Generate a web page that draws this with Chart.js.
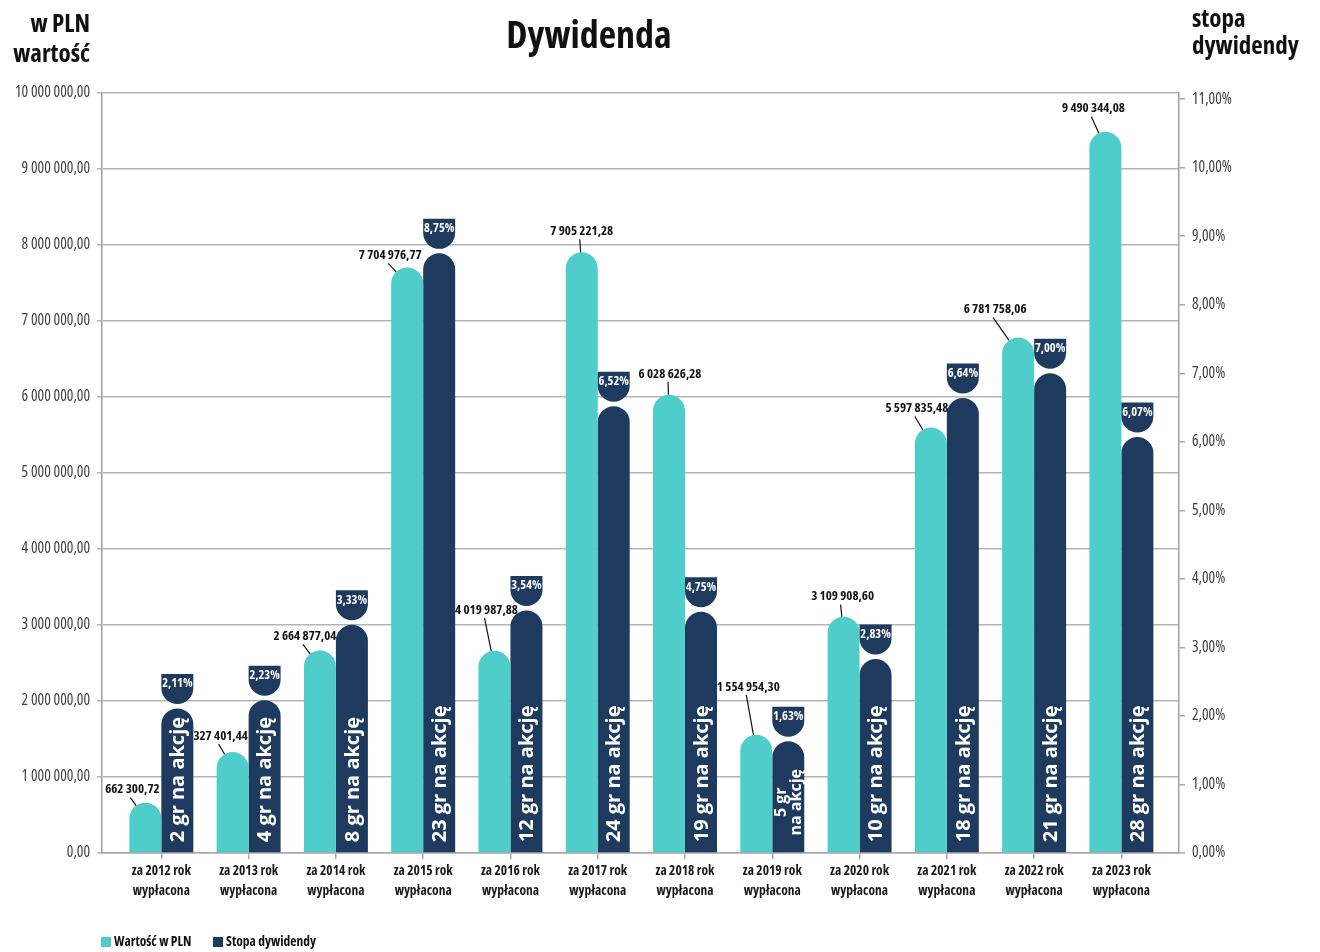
<!DOCTYPE html>
<html lang="pl">
<head>
<meta charset="utf-8">
<title>Dywidenda</title>
<script src="https://cdn.jsdelivr.net/npm/chart.js@4.4.1/dist/chart.umd.min.js"></script>
<style>
  html, body { margin: 0; padding: 0; background: #fff; }
  #wrap { width: 1320px; height: 952px; }
</style>
</head>
<body>
<div id="wrap"><canvas id="myChart" width="1320" height="952"></canvas></div>
<script>
// dane
const years = ['2012', '2013', '2014', '2015', '2016', '2017', '2018', '2019', '2020', '2021', '2022', '2023'];
const categories = years.map(y => ['za ' + y + ' rok', 'wypłacona']);
const values = [662300.72, 1327401.44, 2664877.04, 7704976.77, 2660000, 7905221.28, 6028626.28, 1554954.30, 3109908.60, 5597835.48, 6781758.06, 9490344.08];
const valueLabels = ['662 300,72', '327 401,44', '2 664 877,04', '7 704 976,77', '4 019 987,88', '7 905 221,28',
    '6 028 626,28', '1 554 954,30', '3 109 908,60', '5 597 835,48', '6 781 758,06', '9 490 344,08'];
const rates = [2.11, 2.23, 3.33, 8.75, 3.54, 6.52, 3.52, 1.63, 2.83, 6.64, 7.00, 6.07];
const rateLabels = ['2,11%', '2,23%', '3,33%', '8,75%', '3,54%', '6,52%', '4,75%', '1,63%', '2,83%', '6,64%', '7,00%', '6,07%'];
const perShare = [['2 gr na akcję'], ['4 gr na akcję'], ['8 gr na akcję'], ['23 gr na akcję'], ['12 gr na akcję'],
    ['24 gr na akcję'], ['19 gr na akcję'], ['5 gr', 'na akcję'], ['10 gr na akcję'], ['18 gr na akcję'],
    ['21 gr na akcję'], ['28 gr na akcję']];
const leftTicks = [0, 1000000, 2000000, 3000000, 4000000, 5000000, 6000000, 7000000, 8000000, 9000000, 10000000];
const rightTicks = [0, 1, 2, 3, 4, 5, 6, 7, 8, 9, 10, 11];

// where each value label sits relative to the top of its bar
const labelShift = [[-13, -13], [-12, -16], [-15, -14], [-17, -12], [-8, -41], [0, -21],
    [1, -21], [-8, -48], [-1, -20], [-14, -19], [-23, -28], [-12, -23]];

const TEAL = '#4fcdcb';
const NAVY = '#1e3a5f';
const FAM = '"Open Sans", "DejaVu Sans", sans-serif';

const fmtPLN = v => {
    const [i, d] = v.toFixed(2).split('.');
    return i.replace(/\B(?=(\d{3})+(?!\d))/g, ' ') + ',' + d;
};
const fmtPct = v => v.toFixed(2).replace('.', ',') + '%';

const decorations = {
    id: 'decorations',
    afterDatasetsDraw(chart) {
        const ctx = chart.ctx;
        const teal = chart.getDatasetMeta(0).data;
        const navy = chart.getDatasetMeta(1).data;

        // napisy w słupkach
        navy.forEach((bar, i) => {
            const lines = perShare[i];
            ctx.save();
            ctx.translate(bar.x, bar.base);
            ctx.rotate(-Math.PI / 2);
            ctx.fillStyle = '#fff';
            ctx.textBaseline = 'middle';
            if (lines.length === 1) {
                ctx.font = 'bold 20px ' + FAM;
                ctx.textAlign = 'left';
                ctx.fillText(lines[0], 10, 1);
            } else {
                ctx.font = 'bold 16px ' + FAM;
                ctx.textAlign = 'center';
                ctx.fillText(lines[0], 50, -7);
                ctx.fillText(lines[1], 50, 8);
            }
            ctx.restore();
        });

        // znaczniki z procentem
        navy.forEach((bar, i) => {
            const r = bar.width / 2;
            const top = bar.y - 4.5 - 30;
            ctx.save();
            ctx.beginPath();
            ctx.moveTo(bar.x - r, top);
            ctx.lineTo(bar.x + r, top);
            ctx.lineTo(bar.x + r, top + 14);
            ctx.arc(bar.x, top + 14, r, 0, Math.PI);
            ctx.closePath();
            ctx.fillStyle = NAVY;
            ctx.fill();
            ctx.fillStyle = '#fff';
            ctx.font = 'bold condensed 12.5px ' + FAM;
            ctx.textAlign = 'center';
            ctx.textBaseline = 'middle';
            ctx.fillText(rateLabels[i], bar.x, top + 10);
            ctx.restore();
        });

        // wartości w PLN
        teal.forEach((bar, i) => {
            const [dx, dy] = labelShift[i];
            const tx = bar.x + dx, ty = bar.y + dy;
            ctx.save();
            ctx.fillStyle = '#111';
            ctx.font = 'bold condensed 13px ' + FAM;
            ctx.textAlign = 'center';
            ctx.textBaseline = 'middle';
            ctx.fillText(valueLabels[i], tx, ty);
            const sx = tx - 2, sy = ty + 8;
            const r = bar.width / 2, cx = bar.x, cy = bar.y + r;
            const d = Math.hypot(sx - cx, sy - cy);
            ctx.beginPath();
            ctx.moveTo(sx, sy);
            ctx.lineTo(cx + (sx - cx) / d * r, cy + (sy - cy) / d * r);
            ctx.strokeStyle = '#111';
            ctx.lineWidth = 1.2;
            ctx.stroke();
            ctx.restore();
        });
    },
    afterDraw(chart) {
        const ctx = chart.ctx;
        ctx.save();
        ctx.fillStyle = '#111';
        ctx.textBaseline = 'alphabetic';

        ctx.font = 'bold semi-condensed 38px ' + FAM;
        ctx.textAlign = 'center';
        ctx.fillText('Dywidenda', 589, 48);

        ctx.font = 'bold semi-condensed 25px ' + FAM;
        ctx.textAlign = 'right';
        ctx.fillText('w PLN', 90, 32);
        ctx.fillText('wartość', 90, 62);
        ctx.textAlign = 'left';
        ctx.fillText('stopa', 1192, 27);
        ctx.fillText('dywidendy', 1192, 54);

        // legenda
        ctx.font = 'bold condensed 13.5px ' + FAM;
        ctx.textBaseline = 'middle';
        let x = 101;
        chart.data.datasets.forEach(ds => {
            ctx.fillStyle = ds.backgroundColor;
            ctx.fillRect(x, 937, 10, 10);
            ctx.fillStyle = '#111';
            ctx.fillText(ds.label, x + 13, 942.5);
            x += 112;
        });
        ctx.restore();
    }
};

new Chart(document.getElementById('myChart'), {
    type: 'bar',
    data: {
        datasets: [
            {
                label: 'Wartość w PLN',
                data: values.map((v, i) => ({x: i, y: v})),
                backgroundColor: TEAL,
                yAxisID: 'y',
                borderRadius: {topLeft: 16, topRight: 16, bottomLeft: 0, bottomRight: 0},
                borderSkipped: 'bottom',
                categoryPercentage: 0.733,
                barPercentage: 1
            },
            {
                label: 'Stopa dywidendy',
                data: rates.map((v, i) => ({x: i, y: v})),
                backgroundColor: NAVY,
                yAxisID: 'y1',
                borderRadius: {topLeft: 16, topRight: 16, bottomLeft: 0, bottomRight: 0},
                borderSkipped: 'bottom',
                categoryPercentage: 0.733,
                barPercentage: 1
            }
        ]
    },
    options: {
        responsive: false,
        devicePixelRatio: 1,
        animation: false,
        layout: {padding: {top: 93, left: 0, right: 0, bottom: 0}},
        plugins: {legend: {display: false}, tooltip: {enabled: false}},
        scales: {
            x: {
                type: 'linear',
                offset: false,
                min: -0.68,
                max: 11.66,
                afterBuildTicks: s => { s.ticks = years.map((_, i) => ({value: i})); },
                afterFit: s => { s.height = 99; },
                grid: {offset: false, drawOnChartArea: false, tickLength: 6, color: '#a8a8a8', lineWidth: 1.5},
                border: {color: '#a8a8a8', width: 1.5},
                ticks: {
                    autoSkip: false,
                    maxRotation: 0,
                    padding: 3,
                    color: '#1a1a1a',
                    font: {family: FAM, weight: 'bold condensed', size: 13.5, lineHeight: 1.42},
                    callback: v => categories[v]
                }
            },
            y: {
                position: 'left',
                min: 0,
                max: 10000000,
                afterBuildTicks: s => { s.ticks = leftTicks.map(v => ({value: v})); },
                afterFit: s => { s.width = 102; },
                grid: {color: '#b4b4b4', lineWidth: 1.5, tickLength: 5},
                border: {color: '#a0a0a0', width: 1.5},
                ticks: {
                    padding: 7,
                    color: '#404040',
                    font: {family: FAM, weight: 'condensed', size: 15.5},
                    callback: v => fmtPLN(v)
                }
            },
            y1: {
                position: 'right',
                min: 0,
                max: 11.09,
                afterBuildTicks: s => { s.ticks = rightTicks.map(v => ({value: v})); },
                afterFit: s => { s.width = 141; },
                grid: {drawOnChartArea: false, color: '#a8a8a8', lineWidth: 1.5, tickLength: 6},
                border: {color: '#a0a0a0', width: 1.5},
                ticks: {
                    padding: 7,
                    color: '#404040',
                    font: {family: FAM, weight: 'condensed', size: 15.5},
                    callback: v => fmtPct(v)
                }
            }
        }
    },
    plugins: [decorations]
});
</script>
</body>
</html>
